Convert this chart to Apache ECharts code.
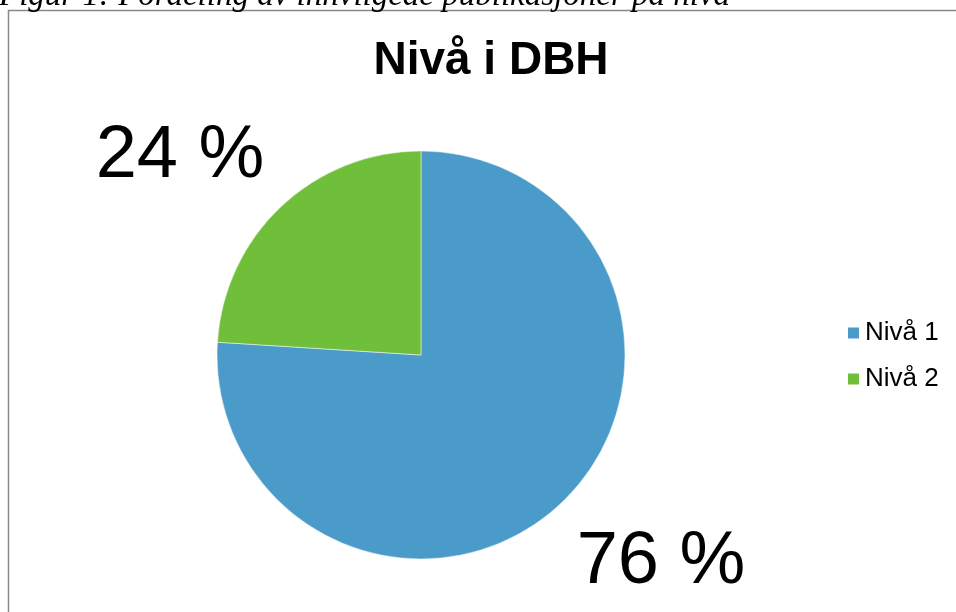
<!DOCTYPE html>
<html>
<head>
<meta charset="utf-8">
<script src="https://cdn.jsdelivr.net/npm/echarts@6/dist/echarts.min.js"></script>
<style>
html,body{margin:0;padding:0;background:#fff;}
#chart{width:956px;height:612px;}
</style>
</head>
<body>
<div id="chart"></div>
<script>
const chartTitle = 'Nivå i DBH';
const caption = 'Figur 1: Fordeling av innvilgede publikasjoner på nivå';
const categories = ['Nivå 1', 'Nivå 2'];
const values = [76, 24];
const colors = ['#4A9BCA', '#70BF3B'];

const chart = echarts.init(document.getElementById('chart'));
const labelPos = [[661, 563], [180, 157]];

chart.setOption({
  animation: false,
  backgroundColor: '#fff',
  color: colors,
  title: {
    text: chartTitle,
    left: 486, top: 33,
    textAlign: 'center',
    textStyle: { fontFamily: 'Liberation Sans, Arial, sans-serif', fontWeight: 'bold', fontSize: 46, color: '#000' }
  },
  legend: {
    orient: 'vertical',
    left: 841, top: 315,
    itemWidth: 13, itemHeight: 13,
    itemGap: 20,
    icon: 'rect',
    data: categories,
    textStyle: { fontFamily: 'Liberation Sans, Arial, sans-serif', fontSize: 26, color: '#000', padding: [0,0,0,0] }
  },
  graphic: [
    { type: 'rect', shape: { x: 8.5, y: 10.5, width: 1000, height: 700 }, style: { fill: 'none', stroke: '#898989', lineWidth: 1.5 }, z: 0 },
    { type: 'text', style: { x: -1, y: 13, text: caption, font: 'italic 33px "Liberation Serif", serif', fill: '#000', verticalAlign: 'bottom' }, z: 10 }
  ],
  series: [{
    type: 'pie',
    center: [421, 355],
    radius: [0, 204],
    startAngle: 90,
    clockwise: true,
    data: categories.map((c, i) => ({ name: c, value: values[i] })),
    itemStyle: { borderColor: '#fff', borderWidth: 0.5 },
    label: {
      show: true,
      formatter: p => p.value + ' %',
      fontFamily: 'Liberation Sans, Arial, sans-serif',
      fontSize: 74,
      color: '#000'
    },
    labelLine: { show: false },
    labelLayout: p => ({ x: labelPos[p.dataIndex][0], y: labelPos[p.dataIndex][1], align: 'center', verticalAlign: 'middle' })
  }]
});
</script>
</body>
</html>
